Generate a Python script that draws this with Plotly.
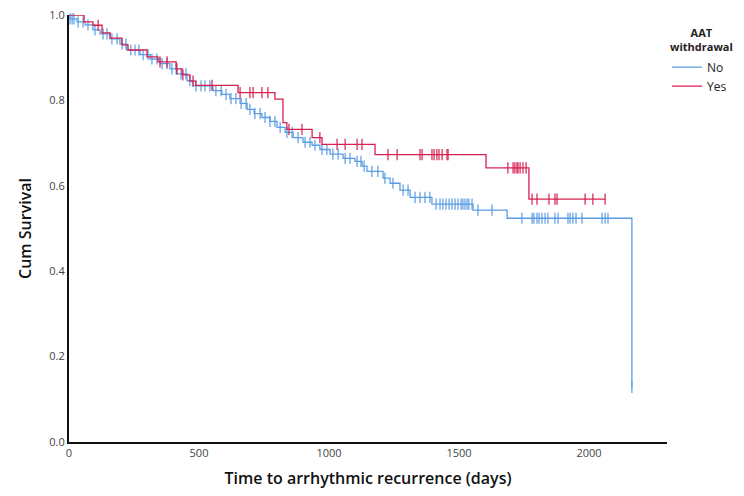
import bisect
import plotly.graph_objects as go

# ---------------- data ----------------
# Group "No": event times (days) and survival after each step
no_event_days = [0, 4, 31, 62, 92, 119, 158, 196, 223, 273, 312, 350, 388, 415, 454, 477,
                 554, 588, 619, 658, 685, 712, 742, 773, 800, 831, 862, 900, 935, 965, 1004,
                 1054, 1100, 1127, 1146, 1208, 1235, 1273, 1312, 1396, 1554, 1685, 2165]
no_event_surv = [1.0, 0.991, 0.984, 0.977, 0.965, 0.956, 0.944, 0.932, 0.918, 0.907, 0.897,
                 0.886, 0.874, 0.862, 0.846, 0.834, 0.823, 0.814, 0.804, 0.793, 0.779, 0.769,
                 0.760, 0.751, 0.737, 0.725, 0.713, 0.702, 0.695, 0.685, 0.674, 0.664, 0.657,
                 0.646, 0.634, 0.618, 0.606, 0.590, 0.573, 0.557, 0.543, 0.524, 0.128]
no_censor_days = [4, 12, 19, 35, 54, 73, 100, 131, 146, 165, 185, 204, 219, 238, 254, 269, 285,
                  304, 319, 338, 358, 377, 396, 412, 431, 450, 465, 488, 508, 523, 542, 565, 585,
                  604, 623, 642, 662, 681, 696, 715, 735, 754, 773, 792, 812, 838, 858, 881, 908,
                  927, 946, 973, 992, 1015, 1035, 1062, 1081, 1108, 1123, 1135, 1165, 1188, 1215,
                  1246, 1285, 1304, 1331, 1350, 1369, 1388, 1412, 1427, 1438, 1450, 1462, 1473,
                  1485, 1496, 1508, 1515, 1523, 1531, 1538, 1550, 1573, 1627, 1742, 1781, 1788,
                  1800, 1808, 1819, 1831, 1842, 1869, 1881, 1919, 1927, 1938, 1950, 1973, 2050,
                  2062, 2073, 2165]

# Group "Yes"
yes_event_days = [0, 58, 92, 127, 158, 204, 227, 300, 342, 412, 435, 465, 488, 650, 792, 823,
                  838, 935, 973, 1177, 1604, 1769]
yes_event_surv = [1.0, 0.984, 0.976, 0.958, 0.946, 0.930, 0.918, 0.902, 0.890, 0.874, 0.860,
                  0.845, 0.835, 0.818, 0.803, 0.748, 0.732, 0.713, 0.697, 0.673, 0.642, 0.569]
yes_censor_days = [112, 350, 377, 415, 438, 477, 550, 658, 696, 708, 742, 765, 846, 896, 965,
                   1031, 1062, 1108, 1127, 1227, 1262, 1350, 1358, 1396, 1404, 1415, 1423, 1435,
                   1454, 1458, 1688, 1708, 1715, 1723, 1727, 1735, 1746, 1758, 1781, 1800, 1846,
                   1869, 1877, 1985, 2015, 2062]

x_ticks = [0, 500, 1000, 1500, 2000]
y_ticks = [0.0, 0.2, 0.4, 0.6, 0.8, 1.0]
legend_title = "AAT<br>withdrawal"

BLUE = "#5b9de3"
RED = "#d62050"
FONT = "Open Sans"


def surv_at(days, surv, t):
    i = bisect.bisect_right(days, t) - 1
    return surv[max(i, 0)]


fig = go.Figure()


def add_group(name, ev_days, ev_surv, cen_days, color):
    end = max(ev_days[-1], cen_days[-1])
    xs = list(ev_days)
    ys = list(ev_surv)
    if end > xs[-1]:
        xs.append(end)
        ys.append(ys[-1])
    fig.add_trace(go.Scatter(
        x=xs, y=ys, mode="lines", line=dict(color=color, width=1.3, shape="hv"),
        name=name, legendgroup=name, cliponaxis=False))
    fig.add_trace(go.Scatter(
        x=cen_days, y=[surv_at(ev_days, ev_surv, t) for t in cen_days], mode="markers",
        marker=dict(symbol="line-ns-open", size=8, color=color,
                    line=dict(color=color, width=1.2)),
        showlegend=False, legendgroup=name, cliponaxis=False, hoverinfo="x+y"))


add_group("No", no_event_days, no_event_surv, no_censor_days, BLUE)
add_group("Yes", yes_event_days, yes_event_surv, yes_censor_days, RED)

# The page body has a default margin, so the figure is sized 736x488
fig.update_layout(
    width=736, height=488,
    margin=dict(l=61, r=77, t=7, b=54, autoexpand=False),
    paper_bgcolor="white", plot_bgcolor="white",
    font=dict(family=FONT, size=11, color="#444"),
    showlegend=True,
    legend=dict(
        x=1.0, xanchor="left", y=0.912, yanchor="top",
        font=dict(family=FONT, size=12, color="#222"),
        bgcolor="rgba(0,0,0,0)", itemwidth=30, tracegroupgap=0),
    annotations=[dict(
        text="<b>" + legend_title + "</b>", xref="paper", yref="paper",
        x=1.058, y=0.982, xanchor="center", yanchor="top", showarrow=False,
        font=dict(family=FONT, size=11, color="#222"))],
)
fig.update_xaxes(
    range=[0, 2300], tickvals=x_ticks, ticktext=[str(v) for v in x_ticks],
    showgrid=False, zeroline=False, showline=True, linecolor="#111", linewidth=2,
    ticks="", ticklen=0, automargin=False, ticklabeloverflow="allow",
    title=dict(text="Time to arrhythmic recurrence (days)",
               font=dict(family=FONT, size=16, color="#111", weight=600), standoff=14))
fig.update_yaxes(
    range=[0, 1.0], tickvals=y_ticks, ticktext=[f"{v:.1f}" for v in y_ticks],
    showgrid=False, zeroline=False, showline=True, linecolor="#111", linewidth=2,
    ticks="", ticklen=0, automargin=False, ticklabeloverflow="allow",
    title=dict(text="Cum Survival",
               font=dict(family=FONT, size=16, color="#111", weight=600), standoff=14))

fig.write_html("out.html")
